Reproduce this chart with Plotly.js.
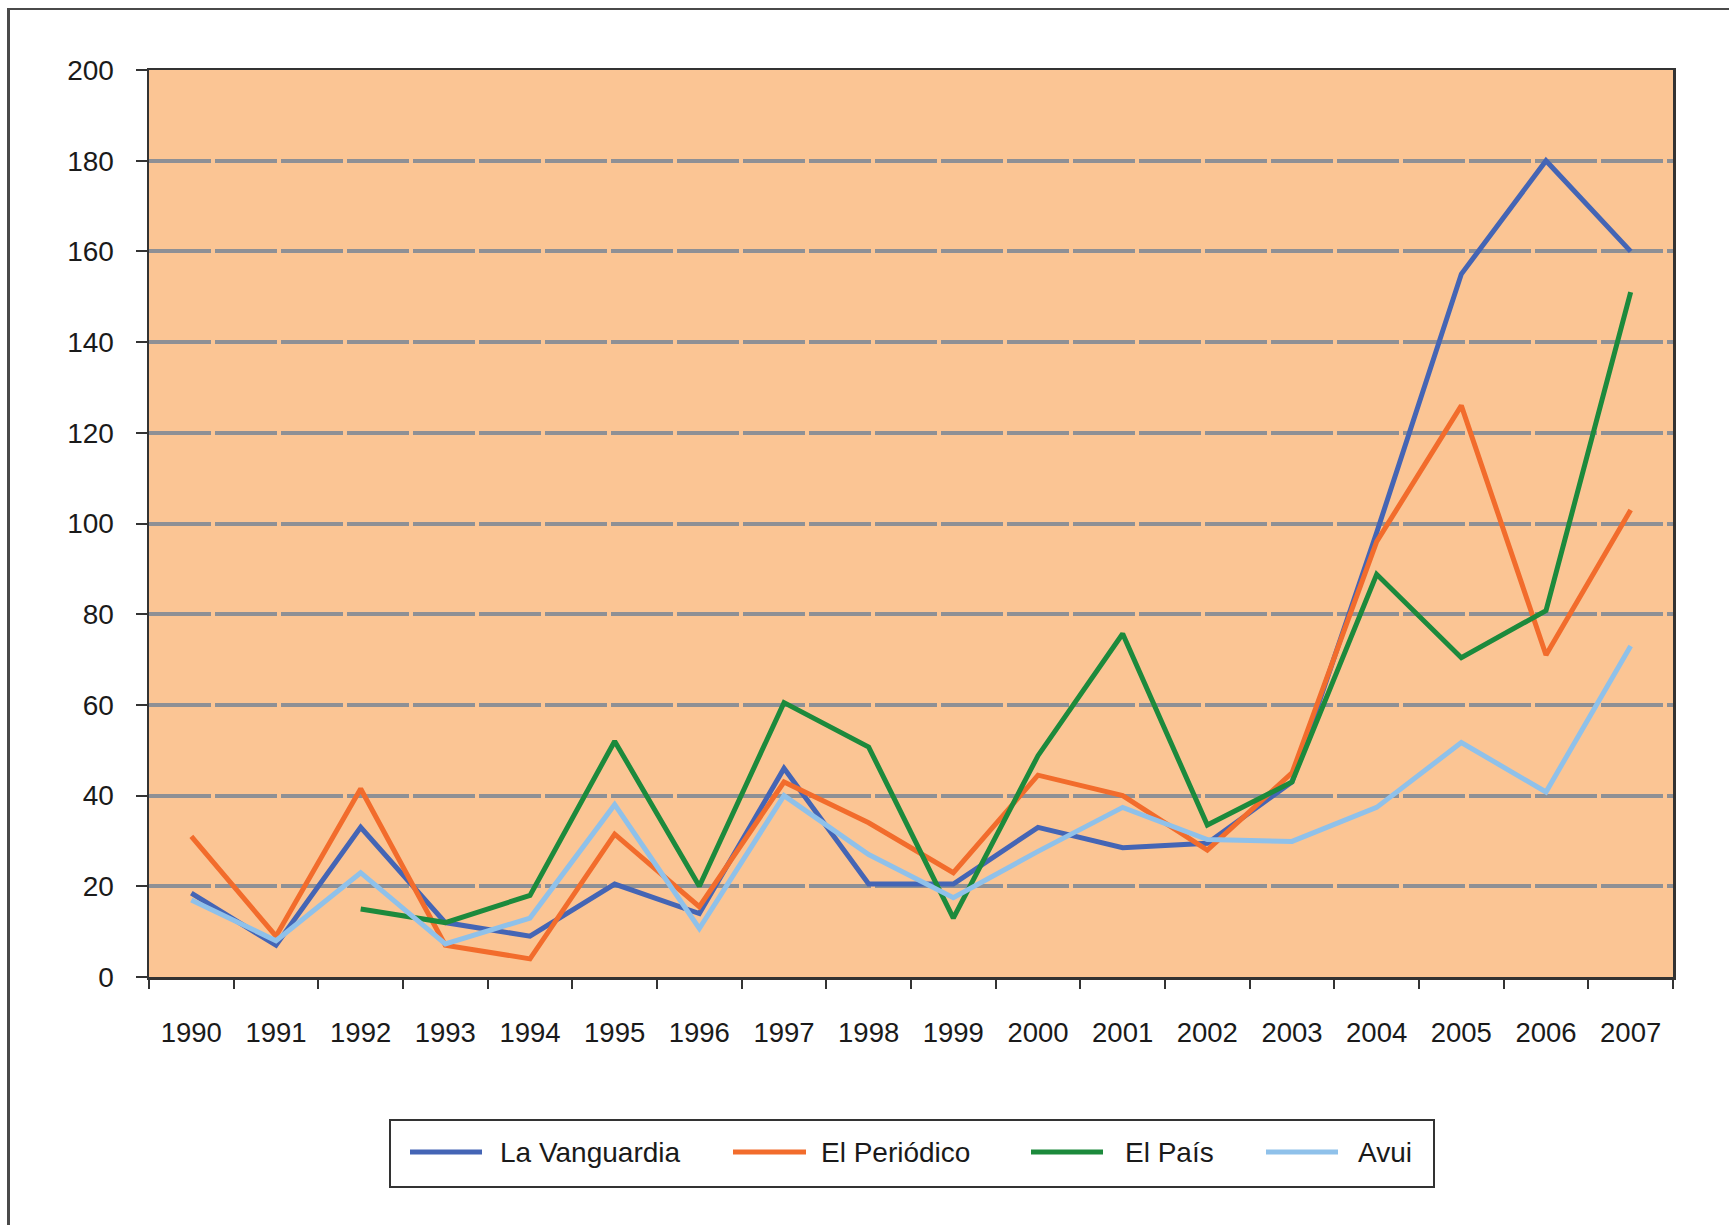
<!DOCTYPE html>
<html>
<head>
<meta charset="utf-8">
<script src="https://cdn.plot.ly/plotly-3.0.1.min.js"></script>
<style>
  html, body { margin: 0; padding: 0; background: #ffffff; }
  #wrap { position: relative; width: 1729px; height: 1225px; overflow: hidden; }
  #frame { position: absolute; left: 7px; top: 8px; width: 1800px; height: 1300px;
           border-left: 3px solid #4a4a4a; border-top: 2px solid #4a4a4a; box-sizing: border-box; pointer-events: none; }
  #chart { position: absolute; left: 0; top: 0; width: 1729px; height: 1225px; }
</style>
</head>
<body>
<div id="wrap">
  <div id="chart"></div>
  <div id="frame"></div>
</div>
<script>
const years = ["1990","1991","1992","1993","1994","1995","1996","1997","1998","1999",
               "2000","2001","2002","2003","2004","2005","2006","2007"];

const seriesNames = ["La Vanguardia", "El Periódico", "El País", "Avui"];

const laVanguardia = [18.5, 7, 33, 12, 9, 20.5, 14, 46, 20.5, 20.5, 33, 28.5, 29.5, 43, 98, 155, 180, 160];
const elPeriodico  = [31, 9, 41.5, 7, 4, 31.5, 15.5, 43, 34, 23, 44.5, 40, 28, 45, 96, 126, 71, 103];
const elPais       = [null, null, 15, 12, 18, 52, 20, 60.5, 50.7, 13, 48.8, 75.7, 33.5, 43, 88.8, 70.4, 80.8, 151];
const avui         = [17, 8, 23, 7.3, 13, 38, 10.7, 40, 27, 17.5, 27.7, 37.4, 30.3, 29.9, 37.4, 51.7, 40.8, 73];

const yTicks = [0, 20, 40, 60, 80, 100, 120, 140, 160, 180, 200];

const colors = ["#4465b5", "#f26c2c", "#1c8a3c", "#8fc1ea"];
const values = [laVanguardia, elPeriodico, elPais, avui];

const fontFam = "'Liberation Sans', Arial, Helvetica, sans-serif";

// plot-area geometry (px)
const M = { l: 149, r: 56, t: 70, b: 248 };
const W = 1729, H = 1225;
const PW = W - M.l - M.r, PH = H - M.t - M.b;
const px = v => (v - M.l) / PW;
const py = v => (H - M.b - v) / PH;

const traces = values.map((v, i) => ({
  type: "scatter",
  mode: "lines",
  name: seriesNames[i],
  x: years,
  y: v,
  connectgaps: false,
  showlegend: false,
  line: { color: colors[i], width: 5 },
  hoverinfo: "x+y+name"
}));

// hand-placed legend (box, line samples, labels)
const legendBox = { x0: 390, x1: 1434, y0: 1120, y1: 1187 };
const legendLineY = 1152;
const legendLineX = [[410, 482], [733, 806], [1031, 1103], [1266, 1338]];
const legendTextX = [498, 819, 1123, 1356];

const shapes = [{
  type: "rect", xref: "paper", yref: "paper",
  x0: px(legendBox.x0), x1: px(legendBox.x1), y0: py(legendBox.y1), y1: py(legendBox.y0),
  line: { color: "#333333", width: 2 }, fillcolor: "#ffffff", layer: "above"
}];
legendLineX.forEach((lx, i) => {
  shapes.push({
    type: "line", xref: "paper", yref: "paper",
    x0: px(lx[0]), x1: px(lx[1]), y0: py(legendLineY), y1: py(legendLineY),
    line: { color: colors[i], width: 5 }, layer: "above"
  });
});
const annotations = seriesNames.map((n, i) => ({
  xref: "paper", yref: "paper",
  x: px(legendTextX[i]), y: py(legendLineY),
  xanchor: "left", yanchor: "middle",
  text: n, showarrow: false,
  font: { family: fontFam, size: 28, color: "#1a1a1a" }
}));

const layout = {
  width: W,
  height: H,
  margin: { l: M.l, r: M.r, t: M.t, b: M.b, pad: 0 },
  paper_bgcolor: "rgba(0,0,0,0)",
  plot_bgcolor: "#fbc594",
  font: { family: fontFam, size: 27, color: "#1a1a1a" },
  showlegend: false,
  shapes: shapes,
  annotations: annotations,
  xaxis: {
    type: "category",
    range: [-0.5, 17.5],
    tickson: "boundaries",
    ticks: "outside",
    ticklen: 9,
    tickwidth: 2,
    tickcolor: "#333333",
    showgrid: false,
    showline: true,
    linecolor: "#333333",
    linewidth: 2.5,
    mirror: true,
    tickfont: { family: fontFam, size: 27.5, color: "#1a1a1a" },
    ticklabelstandoff: 29,
    fixedrange: true
  },
  yaxis: {
    range: [0, 200],
    tickvals: yTicks,
    ticktext: yTicks.map(String),
    ticks: "outside",
    ticklen: 11,
    tickwidth: 2,
    tickcolor: "#333333",
    showgrid: true,
    gridcolor: "#8e9095",
    gridwidth: 4,
    griddash: "62px,4px",
    zeroline: false,
    showline: true,
    linecolor: "#333333",
    linewidth: 2.5,
    mirror: true,
    tickfont: { family: fontFam, size: 28, color: "#1a1a1a" },
    ticklabelstandoff: 16,
    fixedrange: true
  }
};

Plotly.newPlot("chart", traces, layout, { displayModeBar: false, staticPlot: true });
</script>
</body>
</html>
